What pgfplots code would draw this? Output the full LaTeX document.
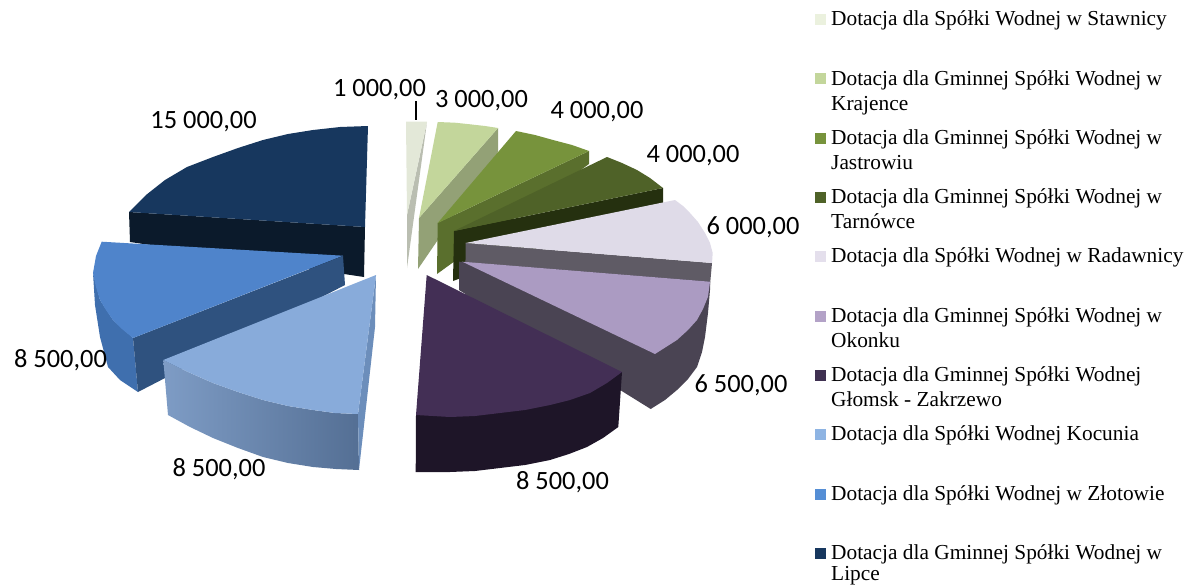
\documentclass[border=0pt]{standalone}
\usepackage{pgfplots}
\pgfplotsset{compat=1.18}
\usepackage{fontspec}
\setmainfont{Liberation Serif}
\newfontfamily\calfont{Carlito}
\definecolor{a1}{HTML}{E3E8D8}\definecolor{a1w}{HTML}{BABEB1}
\definecolor{a2}{HTML}{C3D69B}\definecolor{a2w}{HTML}{93A176}
\definecolor{a3}{HTML}{77933C}\definecolor{a3w}{HTML}{5A6F2D}
\definecolor{a4}{HTML}{4F6228}\definecolor{a4w}{HTML}{25300F}
\definecolor{a5}{HTML}{DFDBE8}\definecolor{a5w}{HTML}{5F5B65}
\definecolor{a6}{HTML}{AB9BC2}\definecolor{a6w}{HTML}{4A4453}
\definecolor{a7}{HTML}{432F55}\definecolor{a7w}{HTML}{1E1528}
\definecolor{a8}{HTML}{88ABDA}\definecolor{a8w}{HTML}{6C8EBB}\definecolor{a8l}{HTML}{7E9CC5}\definecolor{a8r}{HTML}{546F94}
\definecolor{a9}{HTML}{4F84CB}\definecolor{a9w}{HTML}{2F527F}\definecolor{a9o}{HTML}{3F6FAE}
\definecolor{a10}{HTML}{17375E}\definecolor{a10w}{HTML}{0B1A2B}
\definecolor{k1}{HTML}{EBF1DE}\definecolor{k2}{HTML}{C3D69B}\definecolor{k3}{HTML}{77933C}\definecolor{k4}{HTML}{4F6228}\definecolor{k5}{HTML}{E4DFEC}
\definecolor{k6}{HTML}{B3A2C7}\definecolor{k7}{HTML}{403152}\definecolor{k8}{HTML}{8EB4E3}\definecolor{k9}{HTML}{558ED5}\definecolor{k10}{HTML}{17375E}
\newcommand{\poly}[2]{\addplot[fill=#1,draw=none,no marks,forget plot] coordinates {#2};}
\newcommand{\lab}[3]{\node[anchor=base,inner sep=0pt,font=\calfont\fontsize{26.4}{30}\selectfont] at (axis cs:#1,#2) {#3};}
\newcommand{\leg}[2]{\node[anchor=base west,inner sep=0pt,font=\fontsize{21.35}{25}\selectfont] at (axis cs:831,#1) {#2};}
\begin{document}
\begin{tikzpicture}
\path[use as bounding box,clip] (0,0) rectangle (1191pt,586pt);
\begin{axis}[at={(0,0)},anchor=south west,scale only axis,width=1191pt,height=586pt,
  xmin=0,xmax=1191,ymin=0,ymax=586,y dir=reverse,hide axis,clip=false]
% slice 10 Lipce
\poly{a10w}{(129,212)(130,242)(364,277)(365,227)}
\poly{a10}{(368,126)(340,127)(313,130)(288,134)(263,140)(238,148)(213,157)(187,167)(165,180)(146,195)(129,212)(365,227)}
% slice 1
\poly{a1w}{(427,122)(407,215)(407,268)}
\poly{a1}{(406,121.7)(427,121.7)(407,215)}
% slice 2
\poly{a2w}{(498,128)(498,152)(418,269)(419,218)}
\poly{a2}{(437.7,122)(455,122.7)(470,124.3)(485,126)(498,128)(419,218)}
% slice 3
\poly{a3w}{(589,151)(589,164)(437,274)(437.7,223)}
\poly{a3}{(516,131)(535,135)(553,140)(572,145)(589,151)(437.7,223)}
% slice 4
\poly{a4w}{(663,188)(663,203)(453,281)(454,231)}
\poly{a4}{(607,157)(622,163)(637,170)(650,178)(663,188)(454,231)}
% slice 5
\poly{a5w}{(465.7,243)(712,263)(710,285)(465,300)}
\poly{a5}{(675,200)(683,206)(690,213)(698,222)(705,233)(710,243)(712.7,253)(712,263)(465.7,243)}
% slice 6
\poly{a6w}{(459,261.7)(459,290)(650.7,409)(665,400)(677,390)(688,379)(697,367)(702,352)(705,337)(708,313)(710,290)(710,281.7)}
\poly{a6}{(462.3,261.7)(710,281.7)(708,296.7)(703,309)(697,320)(688,330)(677,340)(666,347)(655,354)}
% slice 7
\poly{a7w}{(416,415)(622,372)(618.3,427)(603,438)(587,447)(569,454)(550,460)(525,465)(500,468)(475,471)(450,472)(415.7,472)}
\poly{a7}{(426.7,275)(622,372)(607,383)(590,393)(570,400)(550,405)(525,410)(500,413)(475,416)(450,417)(416,415)}
% slice 9
\poly{a9o}{(93,273)(100,300)(113,320)(133,338)(138,392)(120,380)(108,367)(100,337)(95,305)}
\poly{a9w}{(133,338)(343,256)(345,285)(138,392)}
\poly{a9}{(101.7,241.7)(343,255.7)(133,338)(122,329)(113,320)(106,310)(100,300)(96,287)(93,273)(96,256)}
% slice 8
\addplot[left color=a8l,right color=a8r,draw=none,no marks,forget plot] coordinates {(163.3,360)(188,372)(213,383)(238,392)(263,400)(288,406)(313,410)(335,413)(358,414)(359,470)(336,469)(313,467)(288,463)(263,457)(238,448)(213,438)(190,427)(168,415)};
\poly{a8w}{(376,275)(375,327)(359,470)(358,414)}
\poly{a8}{(376,275)(163.3,360)(188,372)(213,383)(238,392)(263,400)(288,406)(313,410)(335,413)(358,414)}
% leader
\addplot[black,line width=1.2pt,no marks,forget plot] coordinates {(416,101)(416,120)};
% legend keys
\poly{k1}{(815,14)(826,14)(826,25)(815,25)}
\poly{k2}{(815,73)(826,73)(826,84)(815,84)}
\poly{k3}{(815,133)(826,133)(826,144)(815,144)}
\poly{k4}{(815,192)(826,192)(826,203)(815,203)}
\poly{k5}{(815,251)(826,251)(826,262)(815,262)}
\poly{k6}{(815,311)(826,311)(826,322)(815,322)}
\poly{k7}{(815,370)(826,370)(826,381)(815,381)}
\poly{k8}{(815,429)(826,429)(826,440)(815,440)}
\poly{k9}{(815,489)(826,489)(826,500)(815,500)}
\poly{k10}{(815,548)(826,548)(826,559)(815,559)}
% data labels
\lab{379.5}{96}{1 000,00}
\lab{481.5}{107}{3 000,00}
\lab{597}{118}{4 000,00}
\lab{693}{162}{4 000,00}
\lab{753}{234}{6 000,00}
\lab{741}{392}{6 500,00}
\lab{562.5}{489}{8 500,00}
\lab{219}{476}{8 500,00}
\lab{60.5}{367}{8 500,00}
\lab{203.5}{128}{15 000,00}
% legend text
\leg{26}{Dotacja dla Spółki Wodnej w Stawnicy}
\leg{85}{Dotacja dla Gminnej Spółki Wodnej w}
\leg{110.7}{Krajence}
\leg{144}{Dotacja dla Gminnej Spółki Wodnej w}
\leg{169.5}{Jastrowiu}
\leg{203}{Dotacja dla Gminnej Spółki Wodnej w}
\leg{228.5}{Tarnówce}
\leg{262}{Dotacja dla Spółki Wodnej w Radawnicy}
\leg{322.7}{Dotacja dla Gminnej Spółki Wodnej w}
\leg{347}{Okonku}
\leg{381.7}{Dotacja dla Gminnej Spółki Wodnej}
\leg{406.7}{Głomsk - Zakrzewo}
\leg{440.7}{Dotacja dla Spółki Wodnej Kocunia}
\leg{500.7}{Dotacja dla Spółki Wodnej w Złotowie}
\leg{559.3}{Dotacja dla Gminnej Spółki Wodnej w}
\leg{580}{Lipce}
\end{axis}
\end{tikzpicture}
\end{document}
